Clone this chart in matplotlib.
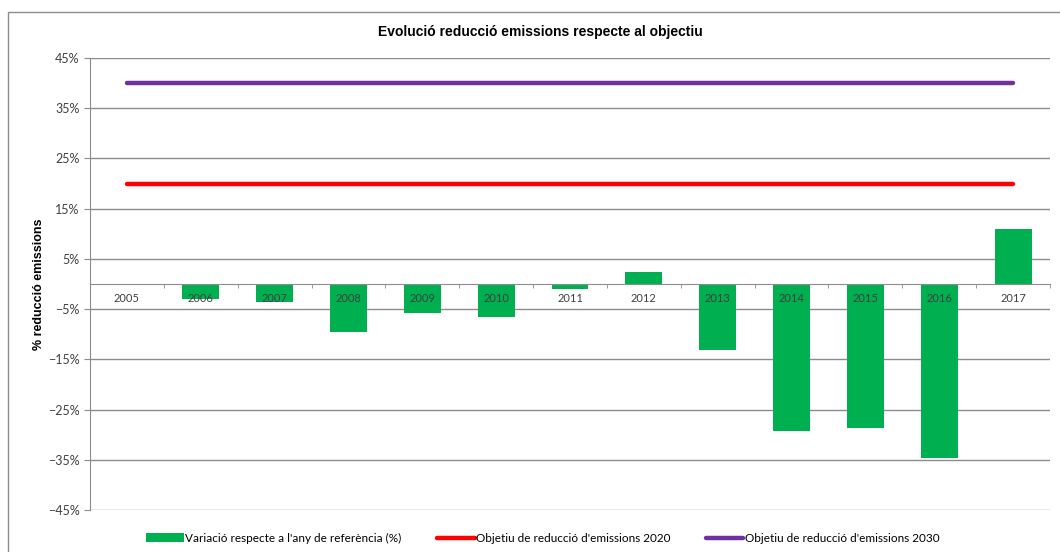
"""Evolució reducció emissions respecte al objectiu — save to out.png."""
import matplotlib.pyplot as plt
from matplotlib.patches import Rectangle
from matplotlib.ticker import FixedLocator, PercentFormatter

years = ["2005", "2006", "2007", "2008", "2009", "2010", "2011",
         "2012", "2013", "2014", "2015", "2016", "2017"]
variacio = [0.0, -3.0, -3.6, -9.6, -5.8, -6.6, -1.0,
            2.4, -13.2, -29.3, -28.6, -34.6, 11.0]
objectiu_2020 = [20] * len(years)
objectiu_2030 = [40] * len(years)

plt.rcParams["font.family"] = ["Lato", "DejaVu Sans"]

fig = plt.figure(figsize=(10.6, 5.52), dpi=100)
ax = fig.add_axes([0.0849, 0.0761, 0.9057, 0.8188])

# outer chart border
fig.patches.append(Rectangle((8 / 1060, -0.01), 1.1, 1 - 12 / 552 + 0.01,
                             transform=fig.transFigure, fill=False,
                             edgecolor="#8c8c8c", linewidth=1.0))

x = list(range(len(years)))
bars = ax.bar(x, variacio, width=0.5, color="#00b050", zorder=2,
              label="Variació respecte a l'any de referència (%)")
l20, = ax.plot(x, objectiu_2020, color="#ff0000", linewidth=3.2, solid_capstyle="round",
               zorder=3, label="Objetiu de reducció d'emissions 2020")
l30, = ax.plot(x, objectiu_2030, color="#7030a0", linewidth=3.2, solid_capstyle="round",
               zorder=3, label="Objetiu de reducció d'emissions 2030")

ax.set_xlim(-0.5, len(years) - 0.5)
ax.set_ylim(-45, 45)
ax.set_yticks(range(-45, 46, 10))
ax.yaxis.set_major_formatter(PercentFormatter(decimals=0))
ax.grid(axis="y", color="#8c8c8c", linewidth=1.0, zorder=0)

for side in ("top", "right"):
    ax.spines[side].set_visible(False)
ax.spines["left"].set_color("#8c8c8c")
ax.spines["bottom"].set_color("#8c8c8c")
ax.spines["bottom"].set_position(("data", 0))
ax.spines["bottom"].set_zorder(4)

# category labels drawn on top of the bars, just under the zero line
ax.set_xticks([])
ax.xaxis.set_minor_locator(FixedLocator([i - 0.5 for i in range(1, len(years) + 1)]))
ax.tick_params(axis="x", which="minor", length=3, color="#8c8c8c")
for xi, yr in zip(x, years):
    ax.text(xi, -2.9, yr, ha="center", va="center", fontsize=8,
            color="#404040", zorder=5)

ax.tick_params(axis="y", length=4, color="#8c8c8c", labelsize=9, labelcolor="#404040")

ax.set_ylabel("% reducció emissions", fontsize=9, fontweight="bold",
              family="Liberation Sans")
ax.yaxis.set_label_coords(-0.047, 0.5)

fig.text(0.51, 0.942, "Evolució reducció emissions respecte al objectiu",
         ha="center", va="center", fontsize=10, fontweight="bold",
         family="Liberation Sans")

fig.legend([bars, l20, l30], [bars.get_label(), l20.get_label(), l30.get_label()],
           loc="center", bbox_to_anchor=(0.512, 0.025), ncol=3, frameon=False,
           fontsize=8.5, handlelength=3.2, handletextpad=0.1, columnspacing=3.0)

plt.savefig("out.png", dpi=100)
plt.close()
